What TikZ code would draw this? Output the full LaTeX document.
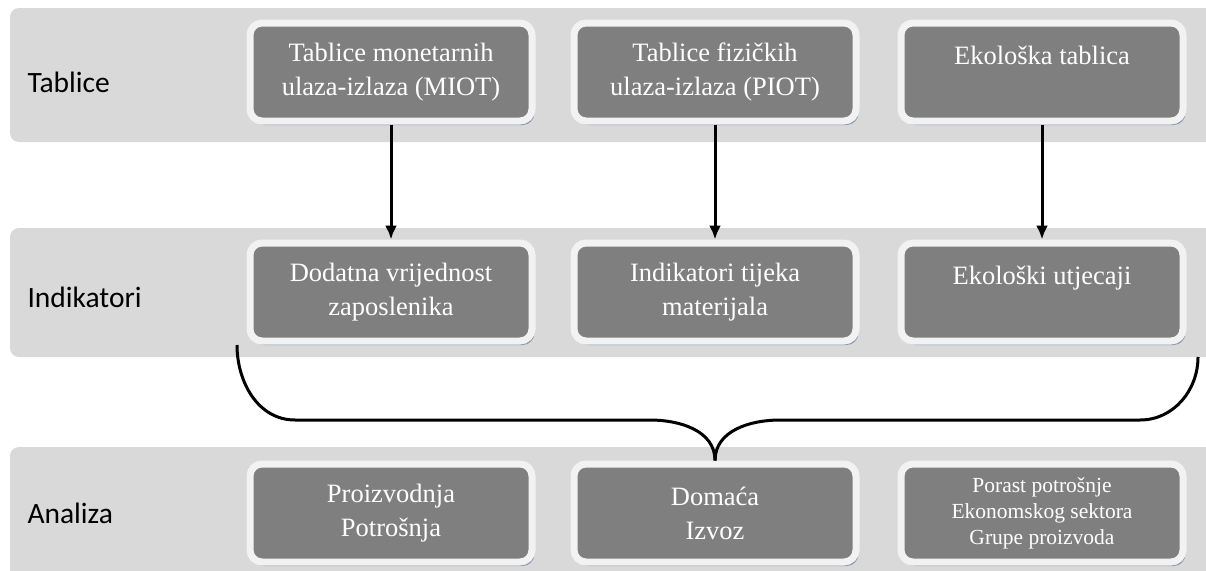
\documentclass[tikz,border=0pt]{standalone}
\usepackage{fontspec}
\setmainfont{Liberation Serif}
\newfontfamily\labelfont{Carlito}
\usetikzlibrary{shadows,arrows.meta}

\definecolor{bandgray}{HTML}{D9D9D9}
\definecolor{boxgray}{HTML}{7F7F7F}
\definecolor{rimwhite}{HTML}{F2F2F2}
\definecolor{shadowblue}{HTML}{8496B0}

\tikzset{
  band/.style={fill=bandgray, draw=none, rounded corners=9pt},
  rowlabel/.style={anchor=west, font=\labelfont\fontsize{29.5}{33}\selectfont},
  card/.style={fill=boxgray, draw=rimwhite, line width=7pt, rounded corners=12pt,
    minimum width=282pt, minimum height=98pt, text=white, align=center,
    font=\fontsize{26.5}{34}\selectfont,
    drop shadow={shadow xshift=2.5pt, shadow yshift=-4pt, fill=shadowblue, opacity=1}},
  smallcard/.style={card, font=\fontsize{21.5}{26}\selectfont},
  link/.style={line width=3pt, -{Latex[length=14pt,width=12pt]}},
  brace/.style={line width=3pt}
}

\begin{document}
\begin{tikzpicture}[x=1pt, y=-1pt]
    \useasboundingbox (0,0) rectangle (1206,570);
    % bands
    \fill [band] (10,8) rectangle (1230,142);
    \fill [band] (10,228) rectangle (1230,357);
    \fill [band] (10,447) rectangle (1230,600);
    \node [rowlabel] (tab) at (24,82) {Tablice};
    \node [rowlabel] (ind) at (24,297) {Indikatori};
    \node [rowlabel] (ana) at (24,513) {Analiza};
    %
    \node [card] (miot) at (391,72) {Tablice monetarnih\\ulaza-izlaza (MIOT)};
    \node [card] (piot) at (715,72) {Tablice fizičkih\\ulaza-izlaza (PIOT)};
    \node [card] (eko) at (1042,72) {Ekološka tablica\\\mbox{}};
    \node [card] (dod) at (391,292) {Dodatna vrijednost\\zaposlenika};
    \node [card] (mat) at (715,292) {Indikatori tijeka\\materijala};
    \node [card] (utj) at (1042,292) {Ekološki utjecaji\\\mbox{}};
    \node [card] (pro) at (391,513) {Proizvodnja\\Potrošnja};
    \node [card] (dom) at (715,513) {Domaća\\Izvoz};
    \node [smallcard] (por) at (1042,513) {Porast potrošnje\\Ekonomskog sektora\\Grupe proizvoda};
    %
    \draw [link] (miot) -- (dod);
    \draw [link] (piot) -- (mat);
    \draw [link] (eko) -- (utj);
    % brace
    \coordinate (bl) at (237,345);
    \coordinate (br) at (1198,357);
    \draw [brace] (bl) to[out=-90, in=180] (295,420) -- (650,420)
      to[out=0, in=90] (dom.north) -- ++(0,-8);
    \draw [brace] (br) to[out=-90, in=0] (1140,420) -- (780,420)
      to[out=180, in=90] (dom.north);
\end{tikzpicture}
\end{document}
